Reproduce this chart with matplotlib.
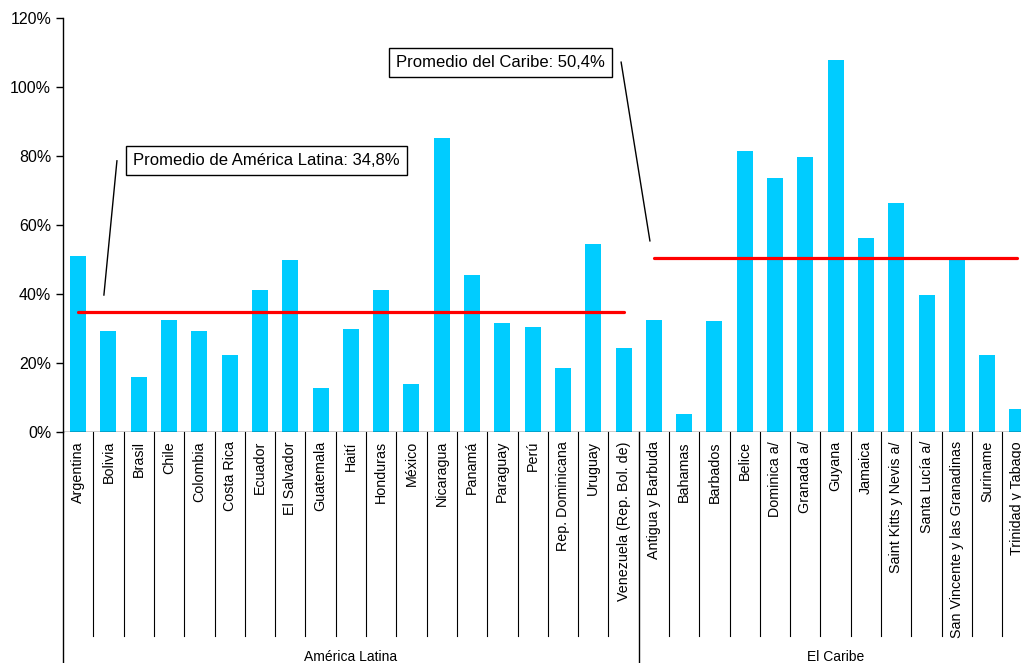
import numpy as np
import matplotlib
matplotlib.use("Agg")
import matplotlib.pyplot as plt
from matplotlib.ticker import PercentFormatter

plt.rcParams['font.family'] = ['Liberation Sans', 'DejaVu Sans']

# data
latina = ["Argentina", "Bolivia", "Brasil", "Chile", "Colombia", "Costa Rica",
          "Ecuador", "El Salvador", "Guatemala", "Haití", "Honduras", "México",
          "Nicaragua", "Panamá", "Paraguay", "Perú", "Rep. Dominicana",
          "Uruguay", "Venezuela (Rep. Bol. de)"]
latina_vals = [51.0, 29.3, 15.9, 32.5, 29.3, 22.3, 41.2, 49.9, 12.8, 29.9,
               41.2, 13.9, 85.2, 45.5, 31.6, 30.4, 18.6, 54.5, 24.3]
caribe = ["Antigua y Barbuda", "Bahamas", "Barbados", "Belice", "Dominica a/",
          "Granada a/", "Guyana", "Jamaica", "Saint Kitts y Nevis a/",
          "Santa Lucía a/", "San Vincente y las Granadinas", "Suriname",
          "Trinidad y Tabago"]
caribe_vals = [32.5, 5.2, 32.2, 81.4, 73.6, 79.7, 107.8, 56.2, 66.4, 39.7,
               50.4, 22.3, 6.7]
groups = ["América Latina", "El Caribe"]
promedios = [34.8, 50.4]

cats = latina + caribe
vals = np.array(latina_vals + caribe_vals) / 100
n_la = len(latina)
x = np.arange(len(cats))

fig = plt.figure(figsize=(10.21, 6.63), dpi=100)
ax = fig.add_axes([63 / 1021, 231 / 663, 32 * 30.3 / 1021, 414 / 663])

ax.bar(x, vals, width=0.53, color='#00CCFF', zorder=2)

# average lines
ax.plot([0, n_la - 1], [promedios[0] / 100] * 2, color='#FF0000', lw=2.3,
        solid_capstyle='round', zorder=3)
ax.plot([n_la, len(cats) - 1], [promedios[1] / 100] * 2, color='#FF0000',
        lw=2.3, solid_capstyle='round', zorder=3, clip_on=False)

ax.set_xlim(-0.5, len(cats) - 0.5)
ax.set_ylim(0, 1.2)
ax.set_yticks(np.arange(0, 1.21, 0.2))
ax.yaxis.set_major_formatter(PercentFormatter(1.0, decimals=0))
ax.tick_params(axis='y', labelsize=11.5, length=5, width=1, direction='out')
ax.set_xticks([])
for s in ['top', 'right', 'bottom']:
    ax.spines[s].set_visible(False)
ax.spines['left'].set_linewidth(1)

trans = ax.get_xaxis_transform()
ax.axhline(0, color='black', lw=1, zorder=4)

# category labels and separators
for i, c in enumerate(cats):
    ax.text(i, -0.022, c, rotation=90, ha='center', va='top', fontsize=10.3,
            transform=trans)
for i in range(1, len(cats)):
    if i == n_la:
        continue
    ax.plot([i - 0.5, i - 0.5], [0, -0.493], color='black', lw=0.8,
            transform=trans, clip_on=False)
for xb in [-0.5, n_la - 0.5]:
    ax.plot([xb, xb], [0, -0.56], color='black', lw=1, transform=trans,
            clip_on=False)

# group labels
ax.text((n_la - 1) / 2, -0.543, groups[0], ha='center', va='center',
        fontsize=10, transform=trans)
ax.text((n_la + len(cats) - 1) / 2, -0.543, groups[1], ha='center',
        va='center', fontsize=10, transform=trans)

# annotations
box = dict(boxstyle='square,pad=0.42', facecolor='white', edgecolor='black',
           lw=1)
ax.text(1.81, 0.786, "Promedio de América Latina: %s%%" %
        str(promedios[0]).replace('.', ','), fontsize=12, va='center',
        ha='left', bbox=box, zorder=5)
ax.plot([1.28, 0.85], [0.786, 0.397], color='black', lw=1, zorder=5)
ax.text(10.5, 1.072, "Promedio del Caribe: %s%%" %
        str(promedios[1]).replace('.', ','), fontsize=12, va='center',
        ha='left', bbox=box, zorder=5)
ax.plot([17.92, 18.87], [1.072, 0.554], color='black', lw=1, zorder=5)

fig.savefig('out.png', dpi=100)
